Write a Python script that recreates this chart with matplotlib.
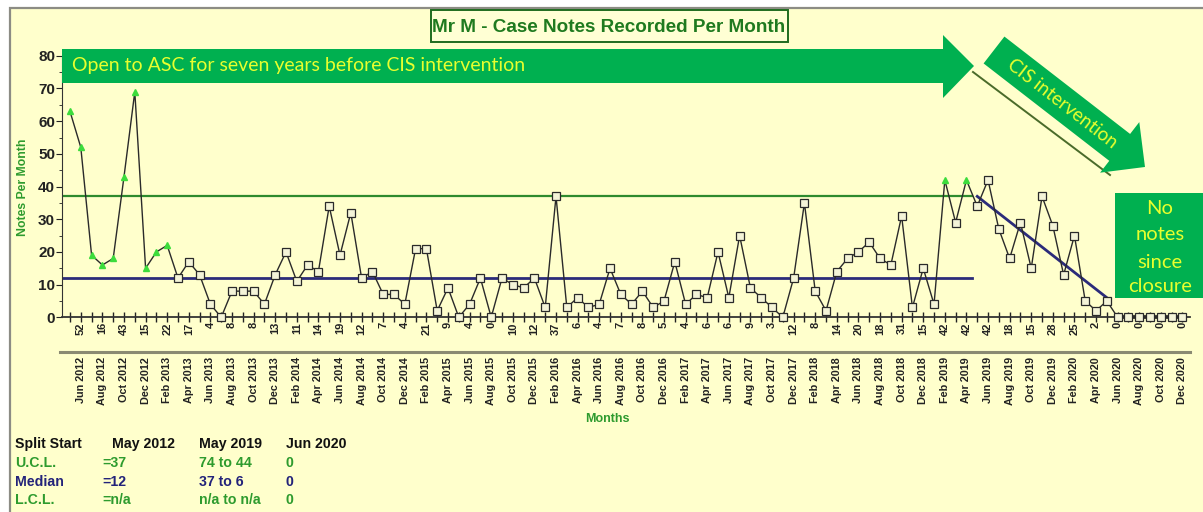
import numpy as np
import pandas as pd
import matplotlib
matplotlib.use('Agg')
import matplotlib.pyplot as plt
import matplotlib.transforms as mtransforms
from matplotlib.patches import Polygon, Rectangle
from matplotlib.ticker import MultipleLocator

# notes recorded per month, May 2012 .. Dec 2020
notes = [63, 52, 19, 16, 18, 43, 69, 15,
         20, 22, 12, 17, 13, 4, 0, 8, 8, 8, 4, 13,
         20, 11, 16, 14, 34, 19, 32, 12, 14, 7, 7, 4,
         21, 21, 2, 9, 0, 4, 12, 0, 12, 10, 9, 12,
         3, 37, 3, 6, 3, 4, 15, 7, 4, 8, 3, 5,
         17, 4, 7, 6, 20, 6, 25, 9, 6, 3, 0, 12,
         35, 8, 2, 14, 18, 20, 23, 18, 16, 31, 3, 15,
         4, 42, 29, 42, 34, 42, 27, 18, 29, 15, 37, 28,
         13, 25, 5, 2, 5, 0, 0, 0, 0, 0, 0, 0]
months = pd.date_range('2012-05-01', periods=len(notes), freq='MS').strftime('%b %Y')
flagged = [0, 1, 2, 3, 4, 5, 6, 7, 8, 9, 81, 83]   # special-cause points (green)

# control lines per split
ucl_1 = 37
median_1 = 12
split_2 = 84          # May 2019
split_3 = 97          # Jun 2020
median_2 = [37, 6]
median_3 = 0

table_rows = [("Split Start", "May 2012", "May 2019", "Jun 2020"),
              ("U.C.L.", "=37", "74 to 44", "0"),
              ("Median", "=12", "37 to 6", "0"),
              ("L.C.L.", "=n/a", "n/a to n/a", "0")]

BG = '#FFFFCC'
GREEN = '#00B050'
TXT_Y = '#E8FF2E'
W, H = 1203, 512

def px(x, y):
    return (x / W, 1 - y / H)

fig = plt.figure(figsize=(W / 100, H / 100), dpi=100, facecolor='white')
fig.patches.append(Rectangle(px(10, 520), 1.1, (H - 10 + 10) / H, transform=fig.transFigure,
                             facecolor=BG, edgecolor='#8C8C84', lw=1.6, zorder=-5))

ax = fig.add_axes([62 / W, (H - 317.3) / H, (1190 - 62) / W, 261.5 / H])
ax.set_facecolor('none')
ax.set_zorder(2)
n = len(notes)
x = np.arange(n)
ax.set_xlim(-0.74, 103.7)
ax.set_ylim(0, 80)

# control lines
ax.plot([-0.74, split_2 - 0.5], [ucl_1, ucl_1], color='#2E8B2E', lw=1.6, zorder=2)
ax.plot([-0.74, split_2 - 0.5], [median_1, median_1], color='#2B2B7A', lw=2.0, zorder=2)
ax.plot([split_2, split_3 - 1], median_2, color='#2B2B7A', lw=2.0, zorder=2)
ax.plot([split_3, n - 1], [median_3, median_3], color='#1A1A1A', lw=2.6, zorder=2, clip_on=False)

# data line and markers
ax.plot(x, notes, color='#2A2A2A', lw=1.0, zorder=3, clip_on=False)
normal = [i for i in range(n) if i not in flagged]
ax.plot(x[normal], np.array(notes)[normal], ls='none', marker='s', ms=5.2,
        mfc='#F4F4D8', mec='#2A2A2A', mew=0.9, zorder=4, clip_on=False)
ax.plot(x[flagged], np.array(notes)[flagged], ls='none', marker='^', ms=5,
        mfc='#3CDC3C', mec='#3CDC3C', zorder=4, clip_on=False)

for s in ['top', 'right']:
    ax.spines[s].set_visible(False)
ax.spines['left'].set_color('#333333')
ax.spines['bottom'].set_color('#333333')
ax.spines['bottom'].set_linewidth(1.3)

ax.yaxis.set_major_locator(MultipleLocator(10))
ax.yaxis.set_minor_locator(MultipleLocator(5))
ax.tick_params(axis='y', which='major', length=4, labelsize=11, pad=1, colors='#222222')
ax.tick_params(axis='y', which='minor', length=2.5, colors='#222222')
for t in ax.get_yticklabels():
    t.set_fontweight('bold')
    t.set_family('Liberation Sans')

ax.set_xticks(x)
ax.set_xticklabels([str(v) if i % 2 == 1 else '' for i, v in enumerate(notes)],
                   rotation=90, fontsize=8, fontweight='bold', family='Liberation Sans')
ax.tick_params(axis='x', direction='inout', length=7, width=1, pad=0, colors='#222222')

trans = mtransforms.blended_transform_factory(ax.transData, ax.transAxes)
for i in range(1, n, 2):
    ax.text(i, -0.152, months[i], transform=trans, rotation=90, ha='center', va='top',
            fontsize=7.8, fontweight='bold', family='Liberation Sans', color='#222222')
ax.plot([-0.9, 103.7], [-0.134, -0.134], transform=trans, color='#8A8A72', lw=2.2, clip_on=False)

fig.text(*px(607, 419), 'Months', ha='center', va='center', fontsize=9,
         fontweight='bold', color='#2E9B2E', family='Liberation Sans')
fig.text(*px(23, 187), 'Notes Per Month', ha='center', va='center', rotation=90,
         fontsize=8.8, fontweight='bold', color='#2E9B2E', family='Liberation Sans')

# title
fig.patches.append(Rectangle(px(431, 42), 357 / W, 32 / H, transform=fig.transFigure,
                             facecolor='#FFFFD4', edgecolor='#1F6B1F', lw=1.4, zorder=5))
fig.text(*px(609, 27), 'Mr M - Case Notes Recorded Per Month', ha='center', va='center',
         fontsize=13.6, fontweight='bold', color='#1F7A1F', zorder=6, family='Liberation Sans')

# big horizontal arrow
harrow = [(62, 49), (943, 49), (943, 35), (974, 66), (943, 98), (943, 83), (62, 83)]
fig.patches.append(Polygon([px(a, b) for a, b in harrow], closed=True, transform=fig.transFigure,
                           facecolor=GREEN, edgecolor='none', zorder=5))
fig.text(*px(72, 66), 'Open to ASC for seven years before CIS intervention', ha='left', va='center',
         fontsize=14, color=TXT_Y, family='Lato', zorder=6)

# diagonal arrow
s = np.array([994.0, 50.0])
u = np.array([151.0, 117.0]); u = u / np.linalg.norm(u)
nv = np.array([-u[1], u[0]])
L, hl, bw, hw = 191, 32, 17, 32
pts = [s + bw * nv, s + (L - hl) * u + bw * nv, s + (L - hl) * u + hw * nv, s + L * u,
       s + (L - hl) * u - hw * nv, s + (L - hl) * u - bw * nv, s - bw * nv]
fig.patches.append(Polygon([px(*p) for p in pts], closed=True, transform=fig.transFigure,
                           facecolor=GREEN, edgecolor='none', zorder=5))
fig.add_artist(plt.Line2D([973 / W, 1110 / W], [1 - 72 / H, 1 - 175 / H], color='#4A6B2A', lw=1.4))
ang = -np.degrees(np.arctan2(u[1], u[0]))
c = s + 87 * u
fig.text(*px(*c), 'CIS intervention', ha='center', va='center', rotation=ang, rotation_mode='anchor',
         fontsize=13.5, color=TXT_Y, family='Lato', zorder=6)

# no notes box
fig.patches.append(Rectangle(px(1115, 298), 100 / W, 105 / H, transform=fig.transFigure,
                             facecolor=GREEN, edgecolor='none', zorder=5))
for word, yy in zip(['No', 'notes', 'since', 'closure'], [208, 235, 262, 287]):
    fig.text(*px(1160, yy), word, ha='center', va='center', fontsize=14.5, color=TXT_Y,
             family='Lato', zorder=6)

# split table
cols = [15, 112, 199, 286]
row_y = [444, 463, 482, 500]
row_col = ['#111111', '#2E9B2E', '#23237A', '#2E9B2E']
for r, row in enumerate(table_rows):
    for j, cell in enumerate(row):
        xx = cols[j] - (10 if (r > 0 and j == 1) else 0)
        fig.text(*px(xx, row_y[r]), cell, ha='left', va='center', fontsize=10.2,
                 fontweight='bold', color=row_col[r], family='Liberation Sans')

fig.savefig('out.png', dpi=100, facecolor='white')
